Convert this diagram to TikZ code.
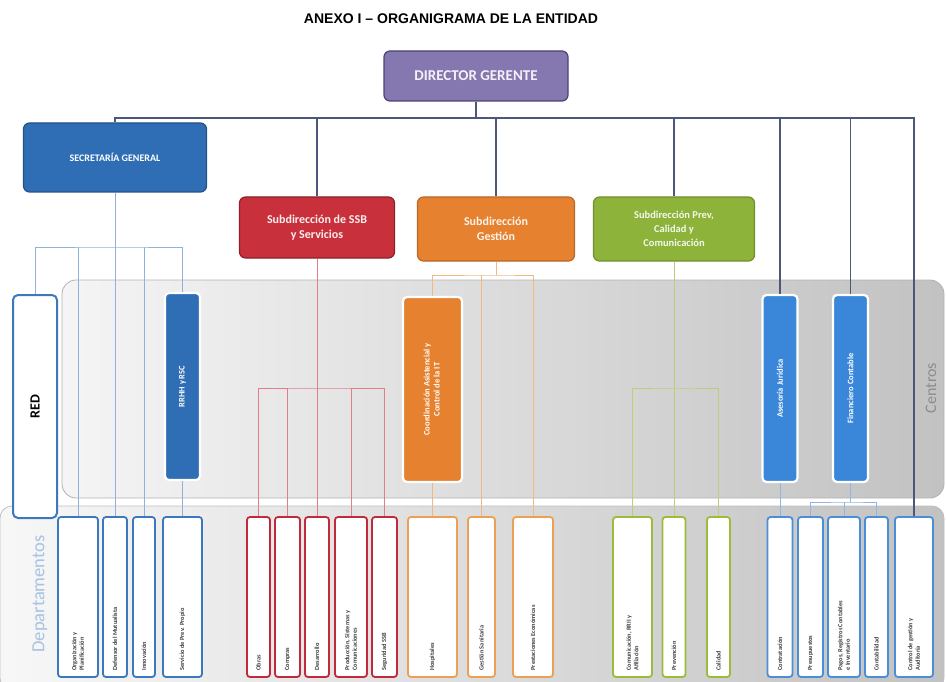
\documentclass[tikz,border=0pt]{standalone}
\usepackage{fontspec}
\setmainfont{Carlito}
\newfontfamily\titlefont{Liberation Sans}

\definecolor{dirfill}{HTML}{8577B0}
\definecolor{dirline}{HTML}{4B4373}
\definecolor{sgblue}{HTML}{2F6EB5}
\definecolor{ssbred}{HTML}{C8303C}
\definecolor{gestorange}{HTML}{E5812F}
\definecolor{prevgreen}{HTML}{8DB33A}
\definecolor{adminblue}{HTML}{3A87D9}
\definecolor{busgray}{HTML}{4D5879}
\definecolor{sglink}{HTML}{8FB2DA}
\definecolor{ssblink}{HTML}{E27E88}
\definecolor{gestlink}{HTML}{F2B880}
\definecolor{prevlink}{HTML}{B9CF7A}
\definecolor{finlink}{HTML}{8EB6E6}
\definecolor{sgdept}{HTML}{3C78BE}
\definecolor{ssbdept}{HTML}{C02A3A}
\definecolor{gestdept}{HTML}{EBA055}
\definecolor{prevdept}{HTML}{9DBB3B}
\definecolor{findept}{HTML}{4A8ED8}

\newcommand{\vtext}[1]{\rotatebox{90}{\parbox{147pt}{\raggedright #1}}}
\newcommand{\ctext}[1]{\rotatebox{90}{\begin{tabular}{@{}c@{}}#1\end{tabular}}}

\tikzset{
  topbox/.style={draw, line width=1.2pt, rounded corners=6pt, text=white, align=center, inner sep=0pt},
  centrobox/.style={draw=white, line width=2.2pt, rounded corners=4pt, text=white,
    font=\bfseries\fontsize{8.5}{10}\selectfont, inner sep=0pt},
  deptbox/.style={draw=#1, fill=white, line width=1.8pt, rounded corners=3pt, minimum height=160,
    inner sep=0pt, font=\bfseries\fontsize{6.3}{7.5}\selectfont, text=black!75},
  bus/.style={draw=busgray, line width=2.4pt},
  drop/.style={draw=busgray, line width=1.5pt},
  link/.style={draw=#1, line width=0.9pt},
  bandlabel/.style={rotate=90}
}

\begin{document}
\begin{tikzpicture}[x=1pt,y=-1pt]
\useasboundingbox (0,0) rectangle (946,682);

% Bands
\shade[left color=black!4, right color=black!24, draw=black!30, line width=0.8pt,
  rounded corners=14pt] (62,280) rectangle (944,498);
\shade[left color=black!3, right color=black!24, draw=black!25, line width=0.8pt,
  rounded corners=12pt] (0,506) rectangle (944,690);
\node[bandlabel, text=black!45, font=\fontsize{16}{18}\selectfont] (centros) at (931,388) {Centros};
\node[bandlabel, text=sgdept!45, font=\fontsize{18.5}{20}\selectfont] (deptos) at (40,594) {Departamentos};

% Title and direction
\node[font=\titlefont\bfseries\fontsize{14}{16}\selectfont] (title) at (451,19)
  {ANEXO I – ORGANIGRAMA DE LA ENTIDAD};
\node[topbox, fill=dirfill, draw=dirline, minimum width=184, minimum height=50,
  font=\bfseries\fontsize{15}{17}\selectfont, text=white!90!dirfill] (dir) at (476,76) {DIRECTOR GERENTE};

% Secretaria and subdirecciones
\node[topbox, fill=sgblue, draw=sgblue!75!black, minimum width=183, minimum height=69,
  font=\bfseries\fontsize{10}{12}\selectfont] (sg) at (115,157.5) {SECRETARÍA GENERAL};
\node[topbox, fill=ssbred, draw=ssbred!70!black, minimum width=155, minimum height=61,
  font=\bfseries\fontsize{12}{15}\selectfont, text=white!92!ssbred] (ssb) at (317,227.5) {Subdirección de SSB\\y Servicios};
\node[topbox, fill=gestorange, draw=gestorange!80!black, minimum width=157, minimum height=64,
  font=\bfseries\fontsize{12}{15}\selectfont, text=white!90!gestorange] (gest) at (496,229) {Subdirección\\Gestión};
\node[topbox, fill=prevgreen, draw=prevgreen!80!black, minimum width=161, minimum height=64,
  font=\bfseries\fontsize{10.5}{14}\selectfont, text=white!90!prevgreen] (prev) at (674,229) {Subdirección Prev,\\Calidad y\\Comunicación};

% Centros
\node[draw=sgdept, line width=2pt, fill=white, rounded corners=5pt, minimum width=44, minimum height=223,
  inner sep=0pt, font=\bfseries\fontsize{14}{16}\selectfont] (red) at (35,406.5) {\rotatebox{90}{RED}};
\node[centrobox, fill=sgblue, minimum width=35, minimum height=187] (rrhh) at (182.5,386.5) {\rotatebox{90}{RRHH y RSC}};
\node[centrobox, fill=gestorange, minimum width=59, minimum height=185] (coord) at (432.5,389.5)
  {\ctext{Coordinación Asistencial y\\Control de la IT}};
\node[centrobox, fill=adminblue, minimum width=35, minimum height=187] (ases) at (780,388.5) {\rotatebox{90}{Asesoría Jurídica}};
\node[centrobox, fill=adminblue, minimum width=35, minimum height=187] (fin) at (850.5,388.5) {\rotatebox{90}{Financiero Contable}};

% Departamentos
\node[deptbox=sgdept, minimum width=40] (org) at (78,597) {\vtext{Organización y\\Planificación}};
\node[deptbox=sgdept, minimum width=24] (def) at (115,597) {\vtext{Defensor del Mutualista}};
\node[deptbox=sgdept, minimum width=22] (innov) at (144,597) {\vtext{Innovación}};
\node[deptbox=sgdept, minimum width=39] (serv) at (182.5,597) {\vtext{Servicio de Prev. Propio}};
\node[deptbox=ssbdept, minimum width=23] (obras) at (258.5,597) {\vtext{Obras}};
\node[deptbox=ssbdept, minimum width=25] (compras) at (287.5,597) {\vtext{Compras}};
\node[deptbox=ssbdept, minimum width=24] (desarr) at (317,597) {\vtext{Desarrollo}};
\node[deptbox=ssbdept, minimum width=32] (produc) at (351,597) {\vtext{Producción, Sistemas y\\Comunicaciones}};
\node[deptbox=ssbdept, minimum width=25] (segur) at (384.5,597) {\vtext{Seguridad SSB}};
\node[deptbox=gestdept, minimum width=49] (hosp) at (432.5,597) {\vtext{Hospitales}};
\node[deptbox=gestdept, minimum width=27] (gestsan) at (481.5,597) {\vtext{Gestión Sanitaria}};
\node[deptbox=gestdept, minimum width=40] (prest) at (533,597) {\vtext{Prestaciones Económicas}};
\node[deptbox=prevdept, minimum width=39] (comun) at (632.5,597) {\vtext{Comunicación, RRII y\\Afiliación}};
\node[deptbox=prevdept, minimum width=23] (preven) at (674,597) {\vtext{Prevención}};
\node[deptbox=prevdept, minimum width=23] (calid) at (718.5,597) {\vtext{Calidad}};
\node[deptbox=findept, minimum width=25] (contr) at (780,597) {\vtext{Contratación}};
\node[deptbox=findept, minimum width=25] (presu) at (810.5,597) {\vtext{Presupuestos}};
\node[deptbox=findept, minimum width=32] (pagos) at (844,597) {\vtext{Pagos, Registros Contables\\e Inventario}};
\node[deptbox=findept, minimum width=23] (contab) at (876.5,597) {\vtext{Contabilidad}};
\node[deptbox=findept, minimum width=38] (ctrl) at (914,597) {\vtext{Control de gestión y\\Auditoría}};

% Top bus
\coordinate (bus) at (476,118);
\draw[bus] (dir.south) -- (bus);
\draw[bus] (sg.north) |- (bus) -| (ctrl.north);
\foreach \n in {ssb,gest,prev,ases,fin}
  \draw[drop] (\n.north) -- (\n.north |- bus);

% Secretaria General
\coordinate (sgbar) at (115,247);
\draw[link=sglink] (red.north) |- (sgbar) -| (rrhh.north);
\draw[link=sglink] (sg.south) -- (def.north);
\draw[link=sglink] (org.north) -- (org.north |- sgbar);
\draw[link=sglink] (innov.north) -- (innov.north |- sgbar);
\draw[link=sglink] (rrhh.south) -- (serv.north);

% SSB y Servicios
\coordinate (ssbbar) at (317,388);
\draw[link=ssblink] (ssb.south) -- (desarr.north);
\draw[link=ssblink] (obras.north) |- (ssbbar) -| (segur.north);
\draw[link=ssblink] (compras.north) -- (compras.north |- ssbbar);
\draw[link=ssblink] (produc.north) -- (produc.north |- ssbbar);

% Gestion
\coordinate (gestbar) at (496,275);
\draw[link=gestlink] (gest.south) -- (gestbar);
\draw[link=gestlink] (coord.north) |- (gestbar) -| (prest.north);
\draw[link=gestlink] (gestsan.north) -- (gestsan.north |- gestbar);
\draw[link=gestlink] (coord.south) -- (hosp.north);

% Prev, Calidad y Comunicacion
\coordinate (prevbar) at (674,388);
\draw[link=prevlink] (prev.south) -- (preven.north);
\draw[link=prevlink] (comun.north) |- (prevbar) -| (calid.north);

% Asesoria y Financiero
\coordinate (finbar) at (850.5,502);
\draw[link=finlink] (ases.south) -- (contr.north);
\draw[link=finlink] (fin.south) -- (finbar);
\draw[link=finlink] (presu.north) |- (finbar) -| (contab.north);
\draw[link=finlink] (pagos.north) -- (pagos.north |- finbar);
\end{tikzpicture}
\end{document}
